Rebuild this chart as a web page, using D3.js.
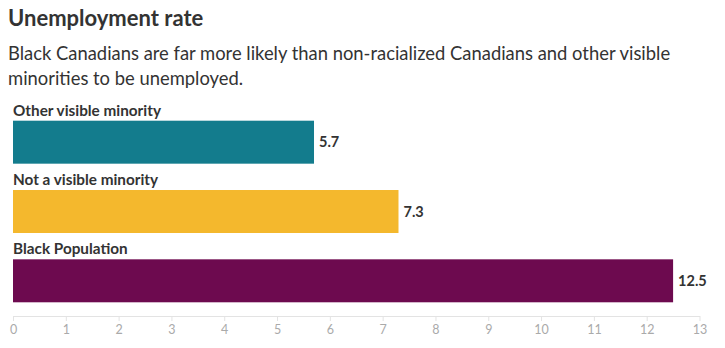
<!DOCTYPE html>
<html>
<head>
<meta charset="utf-8">
<script src="https://cdn.jsdelivr.net/npm/d3@7"></script>
<style>
  body { margin: 0; background: #fff; }
  svg { display: block; font-family: Lato, "Noto Sans", sans-serif; }
</style>
</head>
<body>
<svg width="725" height="348"></svg>
<script>
const categories = ["Other visible minority", "Not a visible minority", "Black Population"]
const values = [5.7, 7.3, 12.5]
const xTicks = d3.range(0, 14)
const palette = ["#137c8d", "#f4b82d", "#6d0a4f"]

const title = "Unemployment rate"
const subtitle = [
    "Black Canadians are far more likely than non-racialized Canadians and other visible",
    "minorities to be unemployed."
]

const svg = d3.select("svg")

svg.append("text")
    .attr("x", 8)
    .attr("y", 26)
    .style("font-size", "22px")
    .style("font-weight", "bold")
    .style("fill", "#333")
    .text(title)

svg.append("g")
    .selectAll("text")
    .data(subtitle)
    .join("text")
    .attr("x", 8)
    .attr("y", (d, i) => 60 + i * 25)
    .style("font-size", "18.4px")
    .style("fill", "#333")
    .text(d => d)

const x = d3.scaleLinear().domain([0, 13]).range([13, 699.5])
const y = d3.scaleBand().domain(categories).range([120.7, 302.3]).paddingInner(0.38).paddingOuter(0)
const color = d3.scaleOrdinal().domain(categories).range(palette)

const rows = categories.map((c, i) => ({ cat: c, value: values[i] }))

const g = svg.append("g")

g.selectAll("rect")
    .data(rows)
    .join("rect")
    .attr("x", x(0))
    .attr("y", d => y(d.cat))
    .attr("width", d => x(d.value) - x(0))
    .attr("height", y.bandwidth())
    .style("fill", d => color(d.cat))

g.selectAll("text.cat")
    .data(rows)
    .join("text")
    .attr("class", "cat")
    .attr("x", x(0))
    .attr("y", d => y(d.cat) - 5)
    .style("font-size", "15.3px")
    .style("font-weight", "bold")
    .style("fill", "#333")
    .text(d => d.cat)

g.selectAll("text.val")
    .data(rows)
    .join("text")
    .attr("class", "val")
    .attr("x", d => x(d.value) + 5)
    .attr("y", d => y(d.cat) + y.bandwidth() / 2)
    .attr("dy", "0.35em")
    .style("font-size", "14.5px")
    .style("font-weight", "bold")
    .style("fill", "#333")
    .text(d => d.value)

const axis = svg.append("g")
    .attr("transform", "translate(0,316)")
    .call(d3.axisBottom(x).tickValues(xTicks).tickSize(5).tickSizeOuter(0).tickPadding(4))

axis.select(".domain").style("stroke", "#e3e3e3")
axis.selectAll(".tick line").style("stroke", "#e3e3e3")
axis.selectAll(".tick text")
    .style("fill", "#aaa")
    .style("font-size", "12.5px")
    .style("font-family", "Lato, sans-serif")
</script>
</body>
</html>
